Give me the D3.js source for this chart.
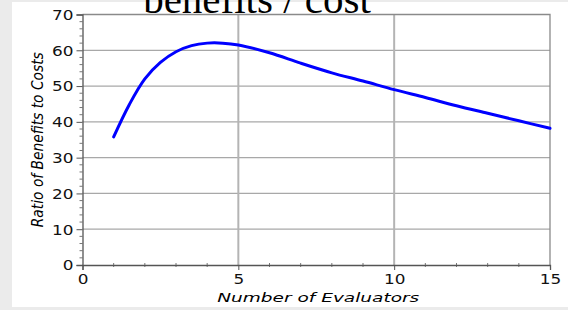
<!DOCTYPE html>
<html>
<head>
<meta charset="utf-8">
<script src="https://cdn.jsdelivr.net/npm/d3@7"></script>
<style>
  html, body { margin: 0; padding: 0; background: #ebebeb; overflow: hidden; }
</style>
</head>
<body>
<div id="chart"></div>
<script>
// values
const evaluators = [1, 1.5, 2, 2.5, 3, 3.5, 4, 4.5, 5, 6, 7, 8, 9, 10, 11, 12, 13, 14, 15];
const ratio = [35.8, 44.8, 52.0, 56.6, 59.6, 61.3, 62.0, 62.0, 61.5, 59.3, 56.4, 53.7, 51.4, 49.0, 46.8, 44.5, 42.4, 40.3, 38.2];
const xTicks = [0, 5, 10, 15];
const yTicks = [0, 10, 20, 30, 40, 50, 60, 70];

const width = 568, height = 310;
const margin = { top: 14.5, right: 18, bottom: 45, left: 82.5 };
const stretch = 1.25; // the picture looks stretched sideways

const svg = d3.select("#chart").append("svg")
    .attr("width", width)
    .attr("height", height)
    .style("display", "block");

// white panel
svg.append("rect")
    .attr("x", 12).attr("y", 2)
    .attr("width", width - 12).attr("height", 305)
    .attr("fill", "white");

const x = d3.scaleLinear().domain([0, 15]).range([margin.left, width - margin.right]);
const y = d3.scaleLinear().domain([0, 70]).range([height - margin.bottom, margin.top]);

// title, cut off by the top edge as in the original
svg.append("text")
    .attr("x", 257)
    .attr("y", 12.5)
    .attr("text-anchor", "middle")
    .style("font-family", "'Liberation Serif', 'Times New Roman', serif")
    .style("font-size", "41px")
    .text("benefits / cost");

// grid
svg.append("g")
    .selectAll("line")
    .data(yTicks.slice(1, -1))
    .join("line")
    .attr("x1", x(0)).attr("x2", x(15))
    .attr("y1", d => y(d)).attr("y2", d => y(d))
    .attr("stroke", "#a8a8a8")
    .attr("stroke-width", 1.2);

svg.append("g")
    .selectAll("line")
    .data(xTicks.slice(1, -1))
    .join("line")
    .attr("x1", d => x(d)).attr("x2", d => x(d))
    .attr("y1", y(0)).attr("y2", y(70))
    .attr("stroke", "#b4b4b4")
    .attr("stroke-width", 2);

// frame top / right
svg.append("path")
    .attr("d", `M${x(0)},${y(70)}H${x(15)}V${y(0)}`)
    .attr("fill", "none")
    .attr("stroke", "#8a8a8a")
    .attr("stroke-width", 1.3);

// minor ticks
const yMinor = d3.range(0, 71, 2).filter(d => d % 10 !== 0);
svg.append("g")
    .selectAll("line")
    .data(yMinor)
    .join("line")
    .attr("x1", x(0) - 3).attr("x2", x(0))
    .attr("y1", d => y(d)).attr("y2", d => y(d))
    .attr("stroke", "#777");

const xMinor = d3.range(0, 16).filter(d => d % 5 !== 0);
svg.append("g")
    .selectAll("line")
    .data(xMinor)
    .join("line")
    .attr("x1", d => x(d)).attr("x2", d => x(d))
    .attr("y1", y(0) - 2).attr("y2", y(0) + 2)
    .attr("stroke", "#777");

// axes
const xAxis = svg.append("g")
    .attr("transform", `translate(0,${y(0)})`)
    .call(d3.axisBottom(x).tickValues(xTicks).tickSize(5).tickPadding(4));

const yAxis = svg.append("g")
    .attr("transform", `translate(${x(0)},0)`)
    .call(d3.axisLeft(y).tickValues(yTicks).tickSize(6).tickPadding(3));

[xAxis, yAxis].forEach(g => {
    g.select(".domain").attr("stroke", "#555").attr("stroke-width", 1.3);
    g.selectAll(".tick line").attr("stroke", "#555");
    g.selectAll(".tick text")
        .attr("fill", "#111")
        .style("font-family", "'DejaVu Sans', Verdana, sans-serif")
        .style("font-size", "13.5px")
        .each(function() {
            const w = this.getComputedTextLength();
            d3.select(this)
                .attr("textLength", w * stretch)
                .attr("lengthAdjust", "spacingAndGlyphs");
        });
});
yAxis.selectAll(".tick text").attr("dy", "0.36em");

// axis titles
svg.append("text")
    .attr("x", (x(0) + x(15)) / 2 + 2)
    .attr("y", 302)
    .attr("text-anchor", "middle")
    .attr("textLength", 202)
    .attr("lengthAdjust", "spacingAndGlyphs")
    .style("font-family", "'DejaVu Sans', Verdana, sans-serif")
    .style("font-style", "italic")
    .style("font-size", "12.5px")
    .text("Number of Evaluators");

svg.append("text")
    .attr("transform", `translate(43,${(y(0) + y(70)) / 2}) scale(${stretch},1) rotate(-90)`)
    .attr("text-anchor", "middle")
    .attr("textLength", 175)
    .attr("lengthAdjust", "spacingAndGlyphs")
    .style("font-family", "'DejaVu Sans', Verdana, sans-serif")
    .style("font-style", "italic")
    .style("font-size", "12.5px")
    .text("Ratio of Benefits to Costs");

// curve
const line = d3.line()
    .x((d, i) => x(evaluators[i]))
    .y(d => y(d))
    .curve(d3.curveCatmullRom);

svg.append("path")
    .datum(ratio)
    .attr("d", line)
    .attr("fill", "none")
    .attr("stroke", "#0000ff")
    .attr("stroke-width", 3)
    .attr("stroke-linecap", "round");
</script>
</body>
</html>
